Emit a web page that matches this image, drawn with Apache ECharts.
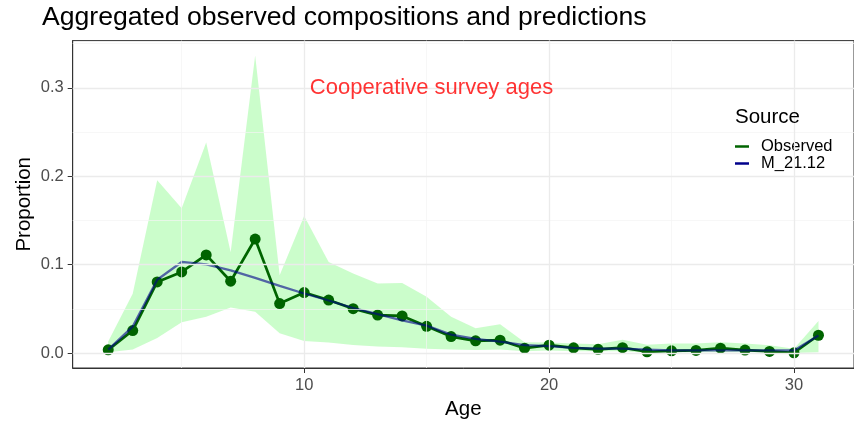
<!DOCTYPE html>
<html>
<head>
<meta charset="utf-8">
<script src="https://cdn.jsdelivr.net/npm/echarts@6/dist/echarts.min.js"></script>
<style>
  html, body { margin: 0; padding: 0; background: #ffffff; }
  #chart { width: 854px; height: 425px; }
</style>
</head>
<body>
<div id="chart"></div>
<script>
// Age classes and aggregated proportions
const ages = [2, 3, 4, 5, 6, 7, 8, 9, 10, 11, 12, 13, 14, 15, 16, 17, 18, 19, 20, 21, 22, 23, 24, 25, 26, 27, 28, 29, 30, 31];
const observed = [0.0037, 0.0255, 0.0805, 0.0918, 0.111, 0.0813, 0.129, 0.056, 0.0685, 0.060, 0.0502, 0.043, 0.042, 0.0303, 0.0187,
                  0.0139, 0.0146, 0.0056, 0.009, 0.006, 0.0043, 0.0062, 0.0015, 0.0026, 0.003, 0.0056, 0.0034, 0.0019, 0.0004, 0.0202];
const predicted = [0.004, 0.030, 0.083, 0.103, 0.1004, 0.0936, 0.085, 0.076, 0.0674, 0.0595, 0.051, 0.044, 0.037, 0.031, 0.021,
                   0.016, 0.013, 0.009, 0.008, 0.006, 0.005, 0.005, 0.004, 0.003, 0.003, 0.003, 0.003, 0.003, 0.003, 0.020];
const lower = [0.001, 0.004, 0.017, 0.0348, 0.041, 0.0517, 0.0468, 0.0225, 0.0138, 0.012, 0.0093, 0.0075, 0.0066, 0.005, 0.004,
               0.0035, 0.004, 0.002, 0.003, 0.002, 0.002, 0.002, 0.0005, 0.0008, 0.001, 0.001, 0.001, 0.001, 0.0, 0.001];
const upper = [0.013, 0.067, 0.1955, 0.1637, 0.238, 0.114, 0.3365, 0.088, 0.155, 0.103, 0.090, 0.0787, 0.0794, 0.0637, 0.041,
               0.028, 0.0326, 0.0124, 0.012, 0.011, 0.010, 0.015, 0.0094, 0.011, 0.011, 0.0124, 0.011, 0.009, 0.005, 0.0363];

// Axis breaks
const xBreaks = [10, 20, 30];
const xMinorBreaks = [5, 15, 25];
const yBreaks = [0, 0.1, 0.2, 0.3];
const yMinorBreaks = [0.05, 0.15, 0.25, 0.35];

const noteText = 'Cooperative survey ages';
const noteAt = [15.2, 0.3];

// Continuous scales padded by 5% of the data range on each side
const xSpan = ages[ages.length - 1] - ages[0];
const xMin = ages[0] - 0.05 * xSpan;
const xMax = ages[ages.length - 1] + 0.05 * xSpan;
const yLo = Math.min(...lower, ...observed, ...predicted);
const yHi = Math.max(...upper, ...observed, ...predicted);
const yMin = yLo - 0.05 * (yHi - yLo);
const yMax = yHi + 0.05 * (yHi - yLo);

const FONT = '"Liberation Sans", Arial, Helvetica, sans-serif';
const MAJOR = { color: '#ebebeb', width: 1.3, type: 'solid' };
const MINOR = { color: '#f4f4f4', width: 0.7, type: 'solid' };

const gridLines = [
  ...xMinorBreaks.map(v => ({ xAxis: v, lineStyle: MINOR })),
  ...yMinorBreaks.map(v => ({ yAxis: v, lineStyle: MINOR })),
  ...xBreaks.map(v => ({ xAxis: v, lineStyle: MAJOR })),
  ...yBreaks.map(v => ({ yAxis: v, lineStyle: MAJOR }))
];

const chart = echarts.init(document.getElementById('chart'), null, { renderer: 'canvas' });

chart.setOption({
  animation: false,
  backgroundColor: '#ffffff',
  textStyle: { fontFamily: FONT },
  title: [
    {
      text: 'Aggregated observed compositions and predictions',
      left: 42, top: 4, padding: 0,
      textStyle: { fontFamily: FONT, fontSize: 26.6, fontWeight: 'normal', color: '#000000' }
    },
    {
      text: 'Source',
      left: 735, top: 107, padding: 0, z: 10,
      textStyle: { fontFamily: FONT, fontSize: 20.5, fontWeight: 'normal', color: '#000000' }
    }
  ],
  legend: {
    orient: 'vertical',
    left: 723, top: 97,
    backgroundColor: '#ffffff',
    padding: [41, 14, 12, 12],
    itemWidth: 14, itemHeight: 2.5, itemGap: 0,
    icon: 'rect',
    selectedMode: false,
    textStyle: { fontFamily: FONT, fontSize: 16.5, color: '#000000', padding: [0, 0, 0, 7] },
    data: [
      { name: 'Observed', itemStyle: { color: '#006400' } },
      { name: 'M_21.12', itemStyle: { color: '#00008b' } }
    ]
  },
  grid: {
    left: 72.7, right: -9.8, top: 40.6, bottom: 55,
    show: true, borderColor: '#333333', borderWidth: 1, backgroundColor: '#ffffff'
  },
  xAxis: {
    type: 'value', min: xMin, max: xMax,
    name: 'Age', nameLocation: 'middle', nameGap: 31, nameMoveOverlap: false,
    nameTextStyle: { fontFamily: FONT, fontSize: 20.5, color: '#000000' },
    axisLine: { show: true, onZero: false, lineStyle: { color: '#333333', width: 1 } },
    axisTick: { show: true, customValues: xBreaks, length: 5, lineStyle: { color: '#333333', width: 1 } },
    axisLabel: { customValues: xBreaks, margin: 9, fontSize: 16.5, color: '#4d4d4d', fontFamily: FONT },
    splitLine: { show: false }
  },
  yAxis: {
    type: 'value', min: yMin, max: yMax,
    name: 'Proportion', nameLocation: 'middle', nameGap: 38, nameMoveOverlap: false,
    nameTextStyle: { fontFamily: FONT, fontSize: 20.5, color: '#000000' },
    axisLine: { show: true, onZero: false, lineStyle: { color: '#333333', width: 1 } },
    axisTick: { show: true, customValues: yBreaks, length: 5, lineStyle: { color: '#333333', width: 1 } },
    axisLabel: { customValues: yBreaks, margin: 9, fontSize: 16.5, color: '#4d4d4d', fontFamily: FONT,
                 formatter: v => v.toFixed(1) },
    splitLine: { show: false }
  },
  series: [
    {
      // panel grid lines at the major and minor breaks
      type: 'line', name: 'grid', data: [], silent: true, z: 0,
      markLine: { silent: true, symbol: 'none', label: { show: false }, animation: false, data: gridLines }
    },
    {
      // interval band
      type: 'custom', name: 'band', silent: true, z: 1,
      data: ages.map((a, i) => [a, lower[i], upper[i]]),
      encode: { x: 0, y: [1, 2] },
      renderItem: (params, api) => {
        if (params.dataIndex !== 0) return null;
        const top = ages.map((a, i) => api.coord([a, upper[i]]));
        const bottom = ages.map((a, i) => api.coord([a, lower[i]])).reverse();
        return {
          type: 'polygon',
          shape: { points: top.concat(bottom) },
          style: { fill: 'rgba(152,251,152,0.5)' }
        };
      }
    },
    {
      type: 'line', name: 'Observed', z: 3,
      data: ages.map((a, i) => [a, observed[i]]),
      symbol: 'circle', symbolSize: 11, showSymbol: true,
      lineStyle: { color: '#006400', width: 2.7 },
      itemStyle: { color: '#006400' }
    },
    {
      type: 'line', name: 'M_21.12', z: 4,
      data: ages.map((a, i) => [a, predicted[i]]),
      symbol: 'none', showSymbol: false,
      lineStyle: { color: 'rgba(0,0,139,0.6)', width: 2.3 },
      itemStyle: { color: '#00008b' }
    },
    {
      type: 'scatter', name: 'note', z: 5, silent: true,
      data: [noteAt], symbolSize: 0,
      label: { show: true, position: 'inside', formatter: noteText,
               fontFamily: FONT, fontSize: 22, color: '#ff0000' }
    }
  ]
});
</script>
</body>
</html>
